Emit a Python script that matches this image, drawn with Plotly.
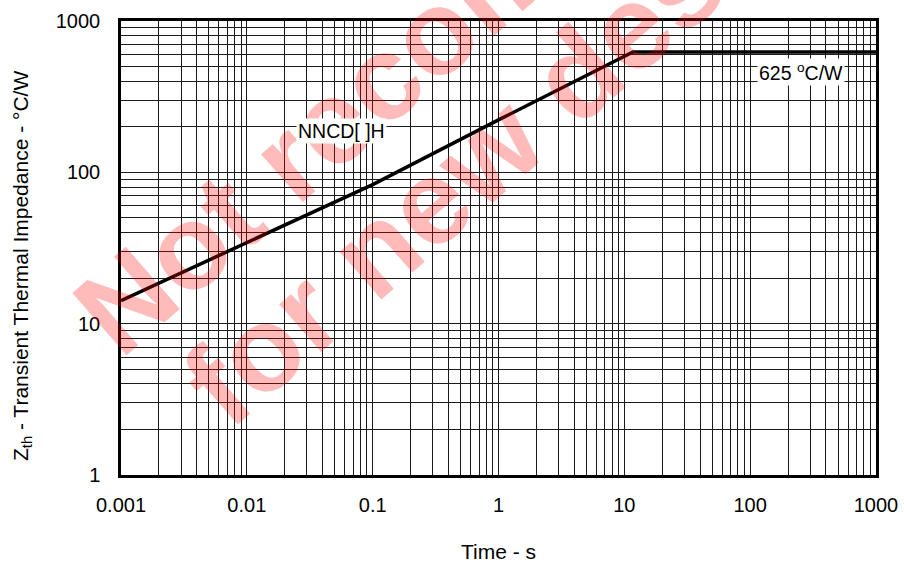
import plotly.graph_objects as go

# Data
time_s = [0.001, 0.01, 0.1, 1, 11.7, 1000]
zth = [14.2, 34.5, 83, 222, 625, 625]

x_tickvals = [0.001, 0.01, 0.1, 1, 10, 100, 1000]
x_ticktext = ["0.001", "0.01", "0.1", "1", "10", "100", "1000"]
y_tickvals = [1, 10, 100, 1000]
y_ticktext = ["1", "10", "100", "1000"]

FONT = "Arial, Liberation Sans, sans-serif"
GRID = "#1a1a1a"

fig = go.Figure()
fig.add_trace(go.Scatter(x=time_s, y=zth, mode="lines",
                         line=dict(color="black", width=3.5),
                         showlegend=False, hoverinfo="skip"))

axis_common = dict(
    type="log", showline=True, linecolor="black", linewidth=2.5, mirror=True,
    showgrid=True, gridcolor=GRID, gridwidth=1, ticks="", zeroline=False,
    automargin=False,
    tickfont=dict(family=FONT, size=20, color="black"),
    minor=dict(dtick="D1", showgrid=True, gridcolor=GRID, gridwidth=1, ticks=""),
)

fig.update_xaxes(range=[-3, 3], tickvals=x_tickvals, ticktext=x_ticktext,
                 ticklabelstandoff=10,
                 title=dict(text="Time - s", font=dict(family=FONT, size=21, color="black"),
                            standoff=30),
                 **axis_common)
fig.update_yaxes(range=[0, 3], tickvals=y_tickvals, ticktext=y_ticktext,
                 ticklabelstandoff=14,
                 **axis_common)

wm_font = dict(family="Arial, Liberation Sans, sans-serif", size=120,
               color="rgba(255,0,0,0.27)")
annotations = [
    dict(text="<b>Not recommended</b>", x=443 / 904, y=1 + 47 / 568, xref="paper", yref="paper",
         xanchor="center", yanchor="middle", showarrow=False, textangle=-41, font=wm_font),
    dict(text="<b>for new design</b>", x=480 / 904, y=1 - 127 / 568, xref="paper", yref="paper",
         xanchor="center", yanchor="middle", showarrow=False, textangle=-41, font=wm_font),
    dict(text="NNCD[ ]H", x=-1.25, y=2.27, xref="x", yref="y", showarrow=False,
         bgcolor="white", font=dict(family=FONT, size=19.5, color="black")),
    dict(text="625 <sup>o</sup>C/W", x=2.40, y=2.66, xref="x", yref="y", showarrow=False,
         bgcolor="white", font=dict(family=FONT, size=19.5, color="black")),
    dict(text="Z<sub>th</sub> - Transient Thermal Impedance - °C/W",
         x=(22 - 121) / 755, y=(475 - 266) / 454, xref="paper", yref="paper",
         xanchor="center", yanchor="middle", showarrow=False, textangle=-90,
         font=dict(family=FONT, size=21, color="black")),
]
fig.update_layout(
    width=904, height=568,
    margin=dict(l=121, r=28, t=21, b=93),
    paper_bgcolor="white", plot_bgcolor="white",
    annotations=annotations,
)

fig.write_html("out.html")
